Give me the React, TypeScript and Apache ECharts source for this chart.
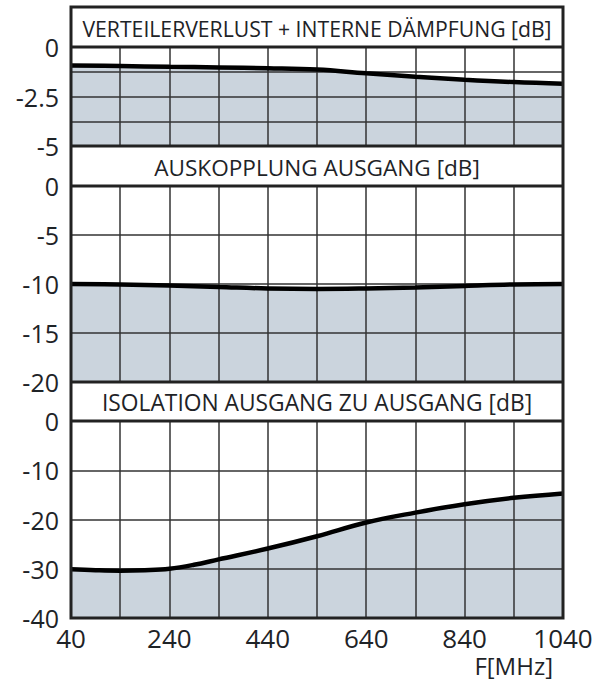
import React, { useEffect, useRef } from "react";
import * as echarts from "echarts";

// Frequencies (MHz) and values (dB)
const FREQ_VERTEILER = [40, 140, 240, 340, 440, 540, 640, 740, 840, 940, 1040];
const VAL_VERTEILER = [-0.93, -0.96, -1.0, -1.03, -1.07, -1.14, -1.33, -1.5, -1.65, -1.77, -1.85];

const FREQ_AUSKOPPLUNG = [40, 140, 240, 340, 440, 540, 640, 740, 840, 940, 1040];
const VAL_AUSKOPPLUNG = [-10.0, -10.05, -10.15, -10.3, -10.45, -10.5, -10.45, -10.35, -10.2, -10.05, -10.0];

const FREQ_ISOLATION = [40, 90, 140, 190, 240, 290, 340, 440, 540, 640, 740, 840, 940, 1040];
const VAL_ISOLATION = [-30.1, -30.3, -30.4, -30.3, -30.0, -29.2, -28.1, -25.9, -23.4, -20.6, -18.6, -16.9, -15.6, -14.7];

const X_TICK_LABELS = ["40", "240", "440", "640", "840", "1040"];
const TITLES = [
  "VERTEILERVERLUST + INTERNE DÄMPFUNG [dB]",
  "AUSKOPPLUNG AUSGANG [dB]",
  "ISOLATION AUSGANG ZU AUSGANG [dB]",
];
const X_UNIT = "F[MHz]";

const F0 = 40;
const FONT = "Open Sans";
const TEXT = "#1e2327";
const FILL = "#cbd4dd";
const GRIDC = "#333333";

export default function App() {
  const ref = useRef<HTMLDivElement>(null);
  useEffect(() => {
    document.body.style.margin = "0";
    if (!ref.current) return;
    const chart = echarts.init(ref.current, undefined, { renderer: "svg" });
    const toData = (f: number[], v: number[]) => f.map((x, i) => [x - F0, v[i]]);

    const L = 71, R = 563;
    const bands = [
      { top: 7, plotTop: 47, plotH: 99 },
      { top: 146, plotTop: 186, plotH: 196 },
      { top: 382, plotTop: 421, plotH: 197 },
    ];
    const yCfg = [
      { min: -5, max: 0, interval: 1.25, fmt: (v: number) => (Math.abs(v % 2.5) < 1e-9 ? String(v) : "") },
      { min: -20, max: 0, interval: 5, fmt: (v: number) => String(v) },
      { min: -40, max: 0, interval: 10, fmt: (v: number) => String(v) },
    ];
    const datasets = [
      toData(FREQ_VERTEILER, VAL_VERTEILER),
      toData(FREQ_AUSKOPPLUNG, VAL_AUSKOPPLUNG),
      toData(FREQ_ISOLATION, VAL_ISOLATION),
    ];

    const grid = bands.map((b) => ({ left: L, width: R - L, top: b.plotTop, height: b.plotH, containLabel: false }));
    const xAxis = bands.map((_, i) => ({
      type: "value",
      gridIndex: i,
      min: 0,
      max: 1000,
      interval: 100,
      z: 2,
      axisLine: { show: false },
      axisTick: { show: false },
      axisLabel: {
        show: i === 2,
        fontSize: 26,
        lineHeight: 22,
        fontFamily: FONT,
        color: TEXT,
        margin: 9,
        formatter: (v: number) => {
          const s = String(v + F0);
          return X_TICK_LABELS.includes(s) ? s : "";
        },
      },
      splitLine: { show: true, lineStyle: { color: GRIDC, width: 1.5 } },
    }));
    const yAxis = yCfg.map((c, i) => ({
      type: "value",
      gridIndex: i,
      min: c.min,
      max: c.max,
      interval: c.interval,
      z: 2,
      axisLine: { show: false },
      axisTick: { show: false },
      axisLabel: { fontSize: 25, lineHeight: 24, fontFamily: FONT, color: TEXT, margin: 12, formatter: c.fmt },
      splitLine: { show: true, lineStyle: { color: GRIDC, width: 1.5 } },
    }));
    const series: any[] = [];
    datasets.forEach((d, i) => {
      series.push({
        type: "line",
        xAxisIndex: i,
        yAxisIndex: i,
        data: d,
        smooth: 0.4,
        symbol: "none",
        z: 1,
        lineStyle: { width: 0 },
        areaStyle: { color: FILL, opacity: 1, origin: "start" },
      });
      series.push({
        type: "line",
        xAxisIndex: i,
        yAxisIndex: i,
        data: d,
        smooth: 0.4,
        symbol: "none",
        z: 3,
        lineStyle: { width: 4.5, color: "#000" },
      });
    });

    const graphic: any[] = [
      { type: "rect", z: 100, shape: { x: L, y: 7, width: R - L, height: 611 }, style: { fill: "none", stroke: "#222", lineWidth: 3 } },
    ];
    [47, 146, 186, 382, 421].forEach((y) =>
      graphic.push({ type: "line", z: 100, shape: { x1: L, y1: y, x2: R, y2: y }, style: { stroke: "#222", lineWidth: 3 } })
    );
    const titleSizes = [21.2, 22.6, 22.8];
    bands.forEach((b, i) =>
      graphic.push({
        type: "text",
        z: 101,
        x: (L + R) / 2,
        y: (b.top + b.plotTop) / 2 + 1,
        style: {
          text: TITLES[i],
          fontSize: titleSizes[i],
          fontFamily: FONT,
          fill: TEXT,
          align: "center",
          verticalAlign: "middle",
        },
      })
    );
    graphic.push({
      type: "text",
      z: 101,
      x: 553,
      y: 665,
      style: { text: X_UNIT, fontSize: 24, lineHeight: 22, fontFamily: FONT, fill: TEXT, align: "right", verticalAlign: "middle" },
    });

    chart.setOption({
      animation: false,
      backgroundColor: "#fff",
      grid,
      xAxis,
      yAxis,
      series,
      graphic,
    });
    return () => chart.dispose();
  }, []);
  return <div ref={ref} style={{ width: 600, height: 685 }} />;
}
